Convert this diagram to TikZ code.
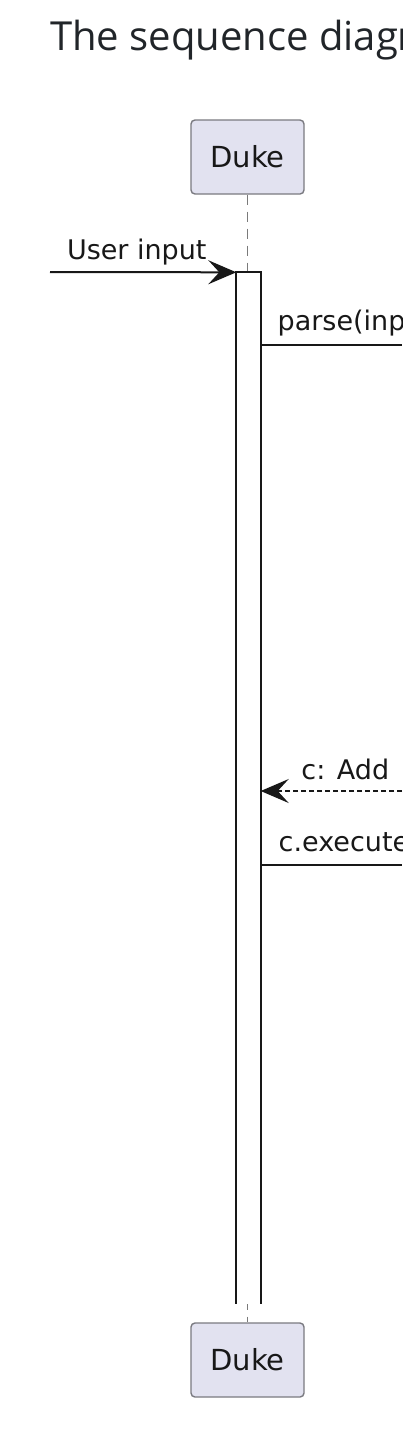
\documentclass[tikz,border=0pt]{standalone}
\usepackage{fontspec}
\usepackage{tikz}
\usetikzlibrary{arrows.meta, positioning, calc}
\newfontfamily\umlfont{DejaVu Sans}
\newfontfamily\headfont{Open Sans}
\definecolor{headtext}{HTML}{212529}
\definecolor{umlline}{HTML}{181818}
\definecolor{partfill}{HTML}{E2E2F0}
\definecolor{partborder}{HTML}{7A7A80}
\definecolor{lifegray}{HTML}{7A7A7A}
\tikzset{
  partbox/.style={rounded corners=4pt, minimum width=113pt, minimum height=74pt,
                  draw=partborder, line width=1.4pt, fill=partfill, text=umlline,
                  font=\umlfont\fontsize{29}{34}\selectfont, inner sep=0pt},
  actbox/.style={fill=white, minimum width=24pt, minimum height=1031pt, inner sep=0pt},
  actside/.style={umlline, line width=2pt},
  lifeline/.style={lifegray, line width=1.5pt, dash pattern=on 10pt off 7pt},
  msgarrow/.style={-{Stealth[length=28pt, width=24pt, inset=11pt]}, umlline, line width=2pt},
  msgline/.style={umlline, line width=2pt},
  replyarrow/.style={-{Stealth[length=28pt, width=24pt, inset=11pt]}, umlline, line width=1.5pt,
                     dash pattern=on 5pt off 3pt},
  msglabel/.style={font=\umlfont\fontsize{27}{32}\selectfont, text=umlline, inner sep=0pt},
}
\begin{document}
\begin{tikzpicture}[x=1pt, y=-1pt]
  \useasboundingbox (0,0) rectangle (402,1436);
  \clip (0,0) rectangle (402,1436);

  \node[anchor=base west, inner sep=0pt, text=headtext, font=\headfont\fontsize{40}{48}\selectfont] (title) at (50,50) {The sequence diagram};

  \node[partbox] (dukeTop) at (247.5,157) {Duke};
  \node[partbox] (dukeBot) at (247.5,1360) {Duke};

  \draw[lifeline] (dukeTop) -- (dukeBot);
  \node[actbox] (act) at (248.5,788) {};
  \draw[actside] (act.south west) -- (act.north west) -- (act.north east) -- (act.south east);

  \coordinate (inStart) at (50,272);
  \coordinate (parseEnd) at (402,345);
  \coordinate (addStart) at (402,791);
  \coordinate (execEnd) at (402,865);

  \draw[msgarrow] (inStart) -- (act.north west) node[msglabel, at start, anchor=base west, xshift=16pt, yshift=13pt] {User input};
  \draw[msgline] (act.east |- parseEnd) -- (parseEnd) node[msglabel, at start, anchor=base west, xshift=16pt, yshift=15pt] {parse(input)};
  \draw[replyarrow] (addStart) -- (act.east |- addStart) node[msglabel, at end, anchor=base west, xshift=40pt, yshift=12pt] {c: Add};
  \draw[msgline] (act.east |- execEnd) -- (execEnd) node[msglabel, at start, anchor=base west, xshift=17pt, yshift=14pt] {c.execute()};
\end{tikzpicture}
\end{document}
